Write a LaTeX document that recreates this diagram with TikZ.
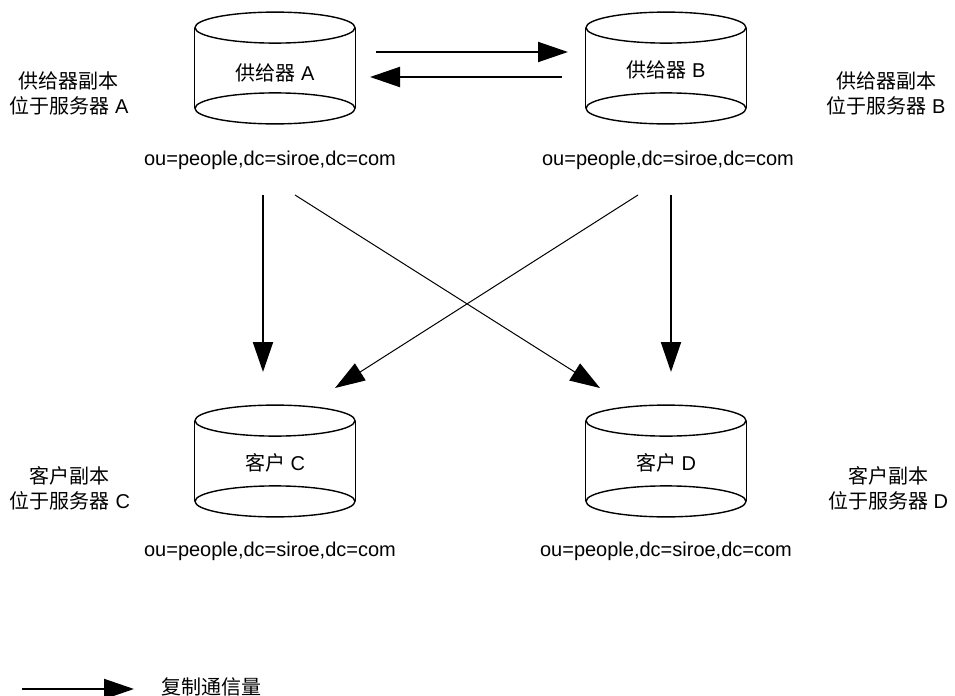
\documentclass[tikz,border=0pt]{standalone}
\usepackage{fontspec}
\setmainfont{Liberation Sans}
\newfontfamily\cjk{Noto Sans CJK SC}
\usetikzlibrary{arrows.meta,positioning}

% outline of a data store drawn round a named node
\newcommand{\storeframe}[1]{%
  \draw[line width=0.7pt] (#1.north west) -- (#1.south west)
    (#1.north east) -- (#1.south east);
  \draw[line width=0.7pt] (#1.north) ellipse [x radius=40pt, y radius=7.75pt]
    (#1.south) ellipse [x radius=40pt, y radius=7.75pt];}

\begin{document}
\begin{tikzpicture}[x=0.5pt, y=-0.5pt,
  font=\fontsize{10}{13}\selectfont,
  store/.style={minimum width=80pt, minimum height=40pt, inner sep=0pt},
  side/.style={align=center, font=\fontsize{10}{12.5}\selectfont},
  suffix/.style={font=\fontsize{10}{12}\selectfont},
  arr/.style={-{Triangle[length=15pt, width=10pt]}, line width=1pt},
  xarr/.style={-{Triangle[length=15pt, width=10pt]}, line width=0.5pt}
]
  \useasboundingbox (0,0) rectangle (955,696);

  % suppliers and consumers
  \node[store] (supA) at (275,68) {};
  \node[store] (supB) at (666,68) {};
  \node[store] (conC) at (275,461) {};
  \node[store] (conD) at (666,461) {};
  \foreach \s in {supA,supB,conC,conD} {\storeframe{\s}}
  \node at ([yshift=-2.5pt]supA.center) {{\cjk 供给器} A};
  \node at ([yshift=-1pt]supB.center) {{\cjk 供给器} B};
  \node at ([yshift=-1pt]conC.center) {{\cjk 客户} C};
  \node at ([yshift=-1pt]conD.center) {{\cjk 客户} D};

  % suffixes
  \node[suffix] (sfxA) at (270,160) {ou=people,dc=siroe,dc=com};
  \node[suffix] (sfxB) at (668,160) {ou=people,dc=siroe,dc=com};
  \node[suffix] (sfxC) at (270,551) {ou=people,dc=siroe,dc=com};
  \node[suffix] (sfxD) at (666,551) {ou=people,dc=siroe,dc=com};

  % where each replica sits
  \node[side] (hostA) at (69,93) {{\cjk 供给器副本}\\{\cjk 位于服务器} A};
  \node[side] (hostB) at (886,93) {{\cjk 供给器副本}\\{\cjk 位于服务器} B};
  \node[side] (hostC) at (70,488) {{\cjk 客户副本}\\{\cjk 位于服务器} C};
  \node[side] (hostD) at (888,488) {{\cjk 客户副本}\\{\cjk 位于服务器} D};

  % connector ends
  \coordinate (abOut) at (376,52);
  \coordinate (abIn) at (568,52);
  \coordinate (baOut) at (562,77);
  \coordinate (baIn) at (370,77);
  \coordinate (acOut) at (263,195);
  \coordinate (acIn) at (263,372);
  \coordinate (bdOut) at (671,195);
  \coordinate (bdIn) at (671,372);
  \coordinate (adOut) at (295,195);
  \coordinate (adIn) at (600,388);
  \coordinate (bcOut) at (638,195);
  \coordinate (bcIn) at (335,388);

  \draw[arr] (abOut) -- (abIn);
  \draw[arr] (baOut) -- (baIn);
  \draw[arr] (acOut) -- (acIn);
  \draw[arr] (bdOut) -- (bdIn);
  \draw[xarr] (adOut) -- (adIn);
  \draw[xarr] (bcOut) -- (bcIn);

  % legend
  \coordinate (keyOut) at (22,689);
  \coordinate (keyIn) at (134,689);
  \draw[arr] (keyOut) -- (keyIn);
  \node (keyText) at (212,687) {\cjk 复制通信量};
\end{tikzpicture}
\end{document}
